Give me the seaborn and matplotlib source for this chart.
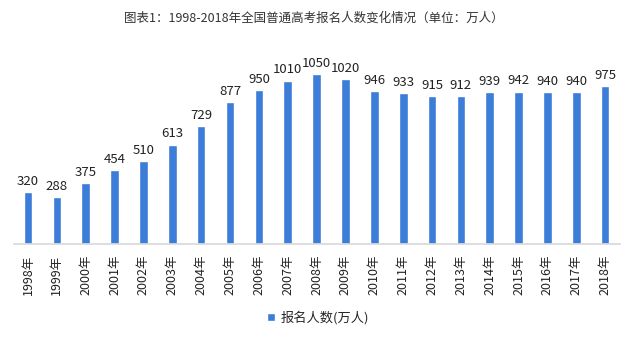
import matplotlib
matplotlib.use("Agg")
import matplotlib.pyplot as plt
import seaborn as sns
import pandas as pd

years = [f"{y}年" for y in range(1998, 2019)]
values = [320, 288, 375, 454, 510, 613, 729, 877, 950, 1010, 1050, 1020,
          946, 933, 915, 912, 939, 942, 940, 940, 975]
series_name = "报名人数(万人)"
title = "图表1：1998-2018年全国普通高考报名人数变化情况（单位：万人）"

sns.set_theme(style="white")
plt.rcParams['font.family'] = ['Noto Sans CJK SC', 'DejaVu Sans']

df = pd.DataFrame({"year": years, "value": values, "series": series_name})

fig = plt.figure(figsize=(6.4, 3.38), dpi=100)
ax = fig.add_axes([13.6/640, 1 - 243.5/338, (619.6-13.6)/640, (243.5-50)/338])
color = "#3B7DD8"
sns.barplot(data=df, x="year", y="value", hue="series", palette=[color],
            width=0.30, ax=ax, saturation=1)
ax.set_ylim(0, 1200)
ax.set_xlim(-0.5, len(years) - 0.5)
for c in ax.containers:
    ax.bar_label(c, labels=[str(v) for v in values], padding=3, fontsize=9.5, color="#222222")
ax.set_xlabel("")
ax.set_ylabel("")
ax.set_yticks([])
for s in ["top", "right", "left"]:
    ax.spines[s].set_visible(False)
ax.spines["bottom"].set_color("#d9d9d9")
ax.tick_params(axis="x", labelrotation=90, labelsize=9, colors="#222222", length=0, pad=8)
fig.text(0.5 - 6/640, 1 - 18/338, title, ha="center", va="center", fontsize=9, color="#333333")
ax.legend(loc="center", bbox_to_anchor=(318/640, 1 - 318/338), bbox_transform=fig.transFigure,
          frameon=False, fontsize=9.5, handlelength=0.6, handleheight=0.6, handletextpad=0.4)
fig.savefig("out.png", dpi=100)
